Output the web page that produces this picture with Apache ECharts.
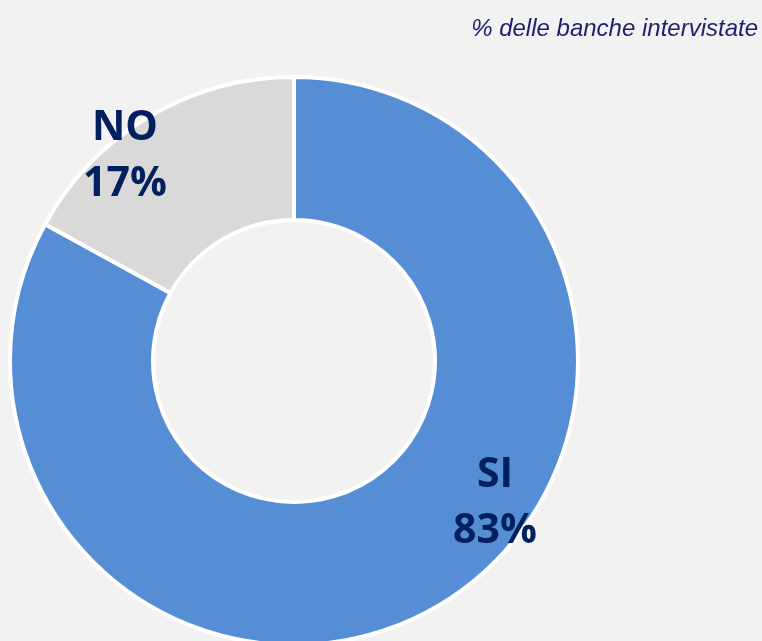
<!DOCTYPE html>
<html>
<head>
<meta charset="utf-8">
<script src="https://cdn.jsdelivr.net/npm/echarts@6/dist/echarts.min.js"></script>
<style>
html,body{margin:0;padding:0;background:#F2F2F2;}
#main{width:762px;height:641px;}
</style>
</head>
<body>
<div id="main"></div>
<script>
const categories = ['SI', 'NO'];
const values = [83, 17];
const subtitle = '% delle banche intervistate';

const colors = ['#558ED5', '#D9D9D9'];
const labelPos = [[495, 503], [125, 156]];

const chart = echarts.init(document.getElementById('main'), null, {renderer: 'canvas'});
chart.setOption({
  backgroundColor: '#F2F2F2',
  animation: false,
  title: {
    text: subtitle,
    right: -1,
    top: 12,
    textStyle: {
      fontFamily: 'Liberation Sans',
      fontStyle: 'italic',
      fontWeight: 'normal',
      fontSize: 24,
      color: '#1F1F6B'
    }
  },
  series: [{
    type: 'pie',
    center: [294, 361],
    radius: [141, 284],
    startAngle: 90,
    clockwise: true,
    silent: true,
    itemStyle: {borderColor: '#FFFFFF', borderWidth: 4},
    label: {
      show: true,
      position: 'inside',
      formatter: '{b}\n{d}%',
      fontFamily: 'Open Sans',
      fontWeight: 'bold',
      fontSize: 41,
      lineHeight: 56,
      color: '#002060',
      align: 'center'
    },
    labelLine: {show: false},
    labelLayout: function (params) {
      const p = labelPos[params.dataIndex];
      return {x: p[0], y: p[1], align: 'center', verticalAlign: 'middle'};
    },
    data: categories.map((c, i) => ({name: c, value: values[i], itemStyle: {color: colors[i]}}))
  }]
});
</script>
</body>
</html>
